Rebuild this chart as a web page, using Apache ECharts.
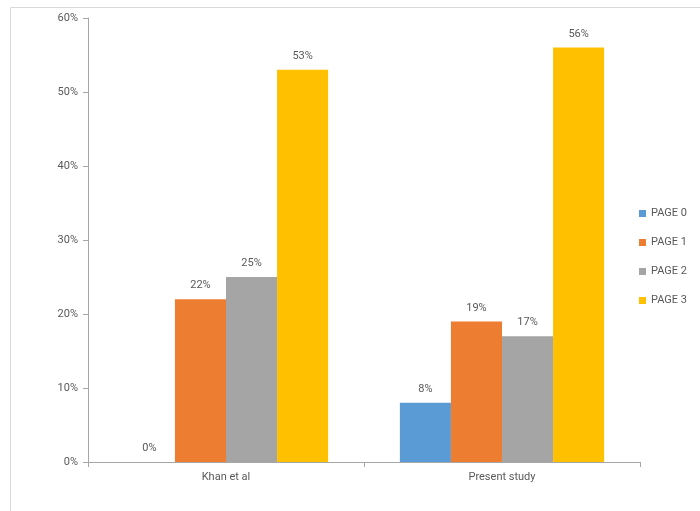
<!DOCTYPE html>
<html>
<head>
<meta charset="utf-8">
<script src="https://cdn.jsdelivr.net/npm/echarts@6/dist/echarts.min.js"></script>
<style>
  html, body { margin: 0; padding: 0; background: #ffffff; }
  #chart { width: 700px; height: 511px; }
</style>
</head>
<body>
<div id="chart"></div>
<script>
const categories = ['Khan et al', 'Present study'];
const seriesNames = ['PAGE 0', 'PAGE 1', 'PAGE 2', 'PAGE 3'];
const page0 = [0, 8];
const page1 = [22, 19];
const page2 = [25, 17];
const page3 = [53, 56];
const yTicks = [0, 10, 20, 30, 40, 50, 60];
const colors = ['#5B9BD5', '#ED7D31', '#A5A5A5', '#FFC000'];

const values = [page0, page1, page2, page3];
const textColor = '#595959';
const font = 'Roboto';

const chart = echarts.init(document.getElementById('chart'));
chart.setOption({
  animation: false,
  graphic: [{
    type: 'rect',
    shape: { x: 10.5, y: 7.5, width: 720, height: 540 },
    style: { fill: 'none', stroke: '#d9d9d9', lineWidth: 1 },
    silent: true
  }],
  grid: { left: 88, right: 60, top: 18, bottom: 49 },
  legend: {
    orient: 'vertical',
    left: 634,
    top: 203,
    itemWidth: 7,
    itemHeight: 7,
    itemGap: 18,
    icon: 'rect',
    textStyle: { color: textColor, fontSize: 11, fontFamily: font },
    data: seriesNames
  },
  xAxis: {
    type: 'category',
    data: categories,
    axisLine: { lineStyle: { color: '#a6a6a6' } },
    axisTick: { show: true, alignWithLabel: false, length: 5, lineStyle: { color: '#a6a6a6' } },
    axisLabel: { color: textColor, fontSize: 11, fontFamily: font, margin: 10 }
  },
  yAxis: {
    type: 'value',
    min: yTicks[0],
    max: yTicks[yTicks.length - 1],
    interval: 10,
    axisLine: { show: true, lineStyle: { color: '#a6a6a6' } },
    axisTick: { show: true, length: 5, lineStyle: { color: '#a6a6a6' } },
    splitLine: { show: false },
    axisLabel: { color: textColor, fontSize: 11, fontFamily: font, margin: 10, formatter: '{value}%' }
  },
  series: seriesNames.map((name, i) => ({
    name: name,
    type: 'bar',
    data: values[i],
    barGap: '0%',
    barCategoryGap: '26%',
    itemStyle: { color: colors[i] },
    label: {
      show: true,
      position: 'top',
      distance: 8,
      formatter: '{c}%',
      color: textColor,
      fontSize: 11,
      fontFamily: font
    }
  }))
});
</script>
</body>
</html>
